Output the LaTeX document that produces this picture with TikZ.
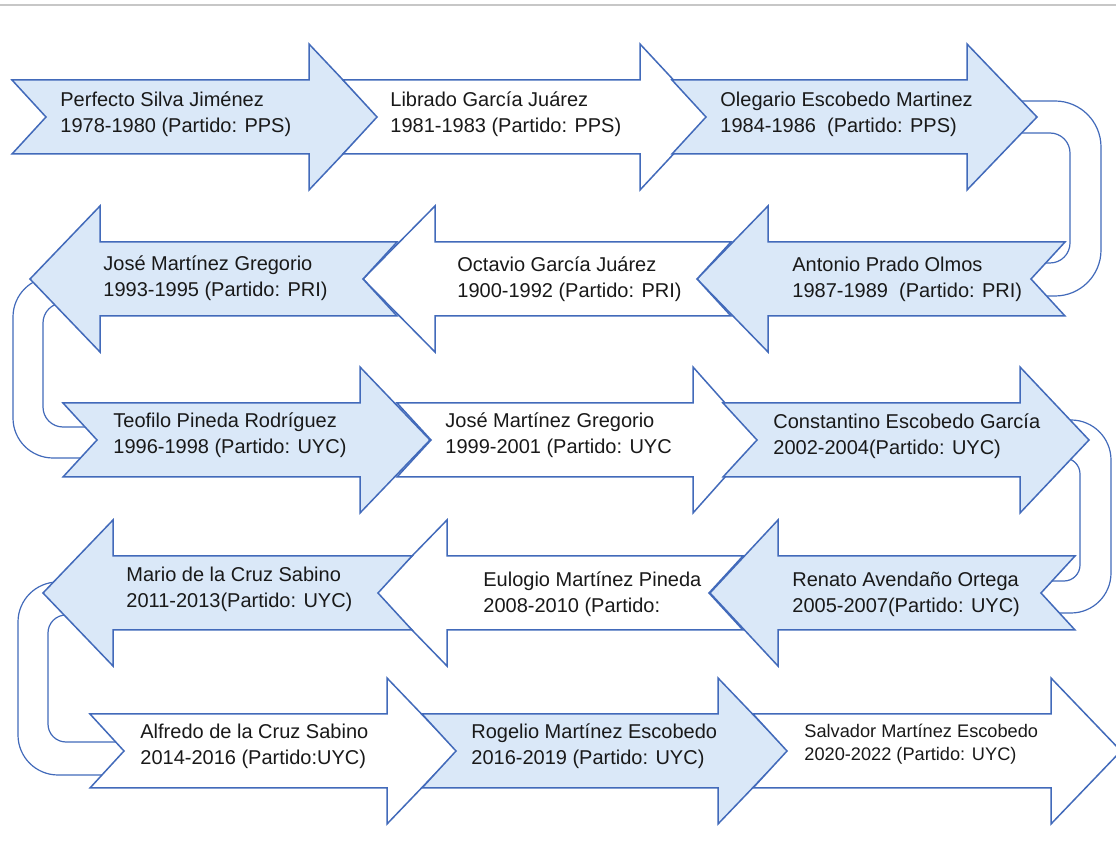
\documentclass[tikz,border=0pt]{standalone}
\usepackage{fontspec}
\setmainfont{Liberation Sans}
\definecolor{abl}{RGB}{66,106,186}
\definecolor{afill}{RGB}{218,232,248}
\definecolor{txt}{RGB}{25,25,25}
\newcommand{\RArr}[5]{\draw[arrshape,fill=#5] (#1,#4-37) -- (#2,#4-37) -- (#2,#4-73) -- (#3,#4) -- (#2,#4+73) -- (#2,#4+37) -- (#1,#4+37) -- ({#1+34},#4) -- cycle;}
\newcommand{\LArr}[5]{\draw[arrshape,fill=#5] (#3,#4-37) -- (#2,#4-37) -- (#2,#4-73) -- (#1,#4) -- (#2,#4+73) -- (#2,#4+37) -- (#3,#4+37) -- ({#3-34},#4) -- cycle;}
\tikzset{
  arrshape/.style={draw=abl, line width=0.75pt, line join=miter},
  band/.style={draw=abl, line width=0.6pt},
  lbl/.style={anchor=west, align=left, inner sep=0pt, text=txt, font=\fontsize{10}{13}\selectfont},
  lblsm/.style={lbl, font=\fontsize{9.1}{11.2}\selectfont}
}
\begin{document}
\begin{tikzpicture}[x=0.5pt,y=-0.5pt]
\useasboundingbox (0,0) rectangle (1116,850);
\clip (0,0) rectangle (1116,850);
\fill[white] (0,0) rectangle (1116,850);
\draw[black!22, line width=1pt] (0,5) -- (1116,5);
% U-turn bands (behind arrows)
\draw[band, rounded corners=23pt] (1000,101) -- (1101,101) -- (1101,296) -- (1030,296);
\draw[band, rounded corners=10pt] (1000,133) -- (1070,133) -- (1070,263) -- (1030,263);
\draw[band, rounded corners=20pt] (62,277) -- (13,277) -- (13,458) -- (95,458);
\draw[band, rounded corners=10pt] (72,303) -- (43,303) -- (43,427) -- (100,427);
\draw[band, rounded corners=20pt] (1050,420) -- (1111,420) -- (1111,613) -- (1040,613);
\draw[band, rounded corners=8pt] (1050,458) -- (1080,458) -- (1080,581) -- (1040,581);
\draw[band, rounded corners=20pt] (72,582) -- (18,582) -- (18,775) -- (112,775);
\draw[band, rounded corners=9pt] (78,615) -- (48,615) -- (48,742) -- (122,742);
% Row 1
\RArr{12}{309}{378}{117}{afill}
\RArr{343}{640}{708}{117}{white}
\RArr{672}{967}{1037}{117}{afill}
% Row 2
\LArr{697}{768}{1065}{279}{afill}
\LArr{363}{435}{731}{279}{white}
\LArr{30}{100}{397}{279}{afill}
% Row 3
\RArr{63}{360}{430}{440}{afill}
\RArr{397}{693}{758}{440}{white}
\RArr{723}{1020}{1089}{440}{afill}
% Row 4
\LArr{710}{778}{1075}{593}{afill}
\LArr{376}{447}{743}{593}{white}
\LArr{43}{113}{412}{593}{afill}
% Row 5
\RArr{90}{387}{457}{751}{white}
\RArr{422}{718}{788}{751}{afill}
\RArr{753}{1051}{1121}{751}{white}
% Labels
\node[lbl] (t1) at (60,114) {Perfecto Silva Jiménez\\1978-1980 (Partido: PPS)};
\node[lbl] (t2) at (390,114) {Librado García Juárez\\1981-1983 (Partido: PPS)};
\node[lbl] (t3) at (720,114) {Olegario Escobedo Martinez\\1984-1986\ \ (Partido: PPS)};
\node[lbl] (t4) at (792,279) {Antonio Prado Olmos\\1987-1989\ \ (Partido: PRI)};
\node[lbl] (t5) at (457,279) {Octavio García Juárez\\1900-1992 (Partido: PRI)};
\node[lbl] (t6) at (103,278) {José Martínez Gregorio\\1993-1995 (Partido: PRI)};
\node[lbl] (t7) at (113,435) {Teofilo Pineda Rodríguez\\1996-1998 (Partido: UYC)};
\node[lbl] (t8) at (445,435) {José Martínez Gregorio\\1999-2001 (Partido: UYC};
\node[lbl] (t9) at (773,436) {Constantino Escobedo García\\2002-2004(Partido: UYC)};
\node[lbl] (t10) at (792,594) {Renato Avendaño Ortega\\2005-2007(Partido: UYC)};
\node[lbl] (t11) at (483,594) {Eulogio Martínez Pineda\\2008-2010 (Partido:};
\node[lbl] (t12) at (126,589) {Mario de la Cruz Sabino\\2011-2013(Partido: UYC)};
\node[lbl] (t13) at (140,746) {Alfredo de la Cruz Sabino\\2014-2016 (Partido:UYC)};
\node[lbl] (t14) at (471,746) {Rogelio Martínez Escobedo\\2016-2019 (Partido: UYC)};
\node[lblsm] (t15) at (804,744) {Salvador Martínez Escobedo\\2020-2022 (Partido: UYC)};
\end{tikzpicture}
\end{document}
